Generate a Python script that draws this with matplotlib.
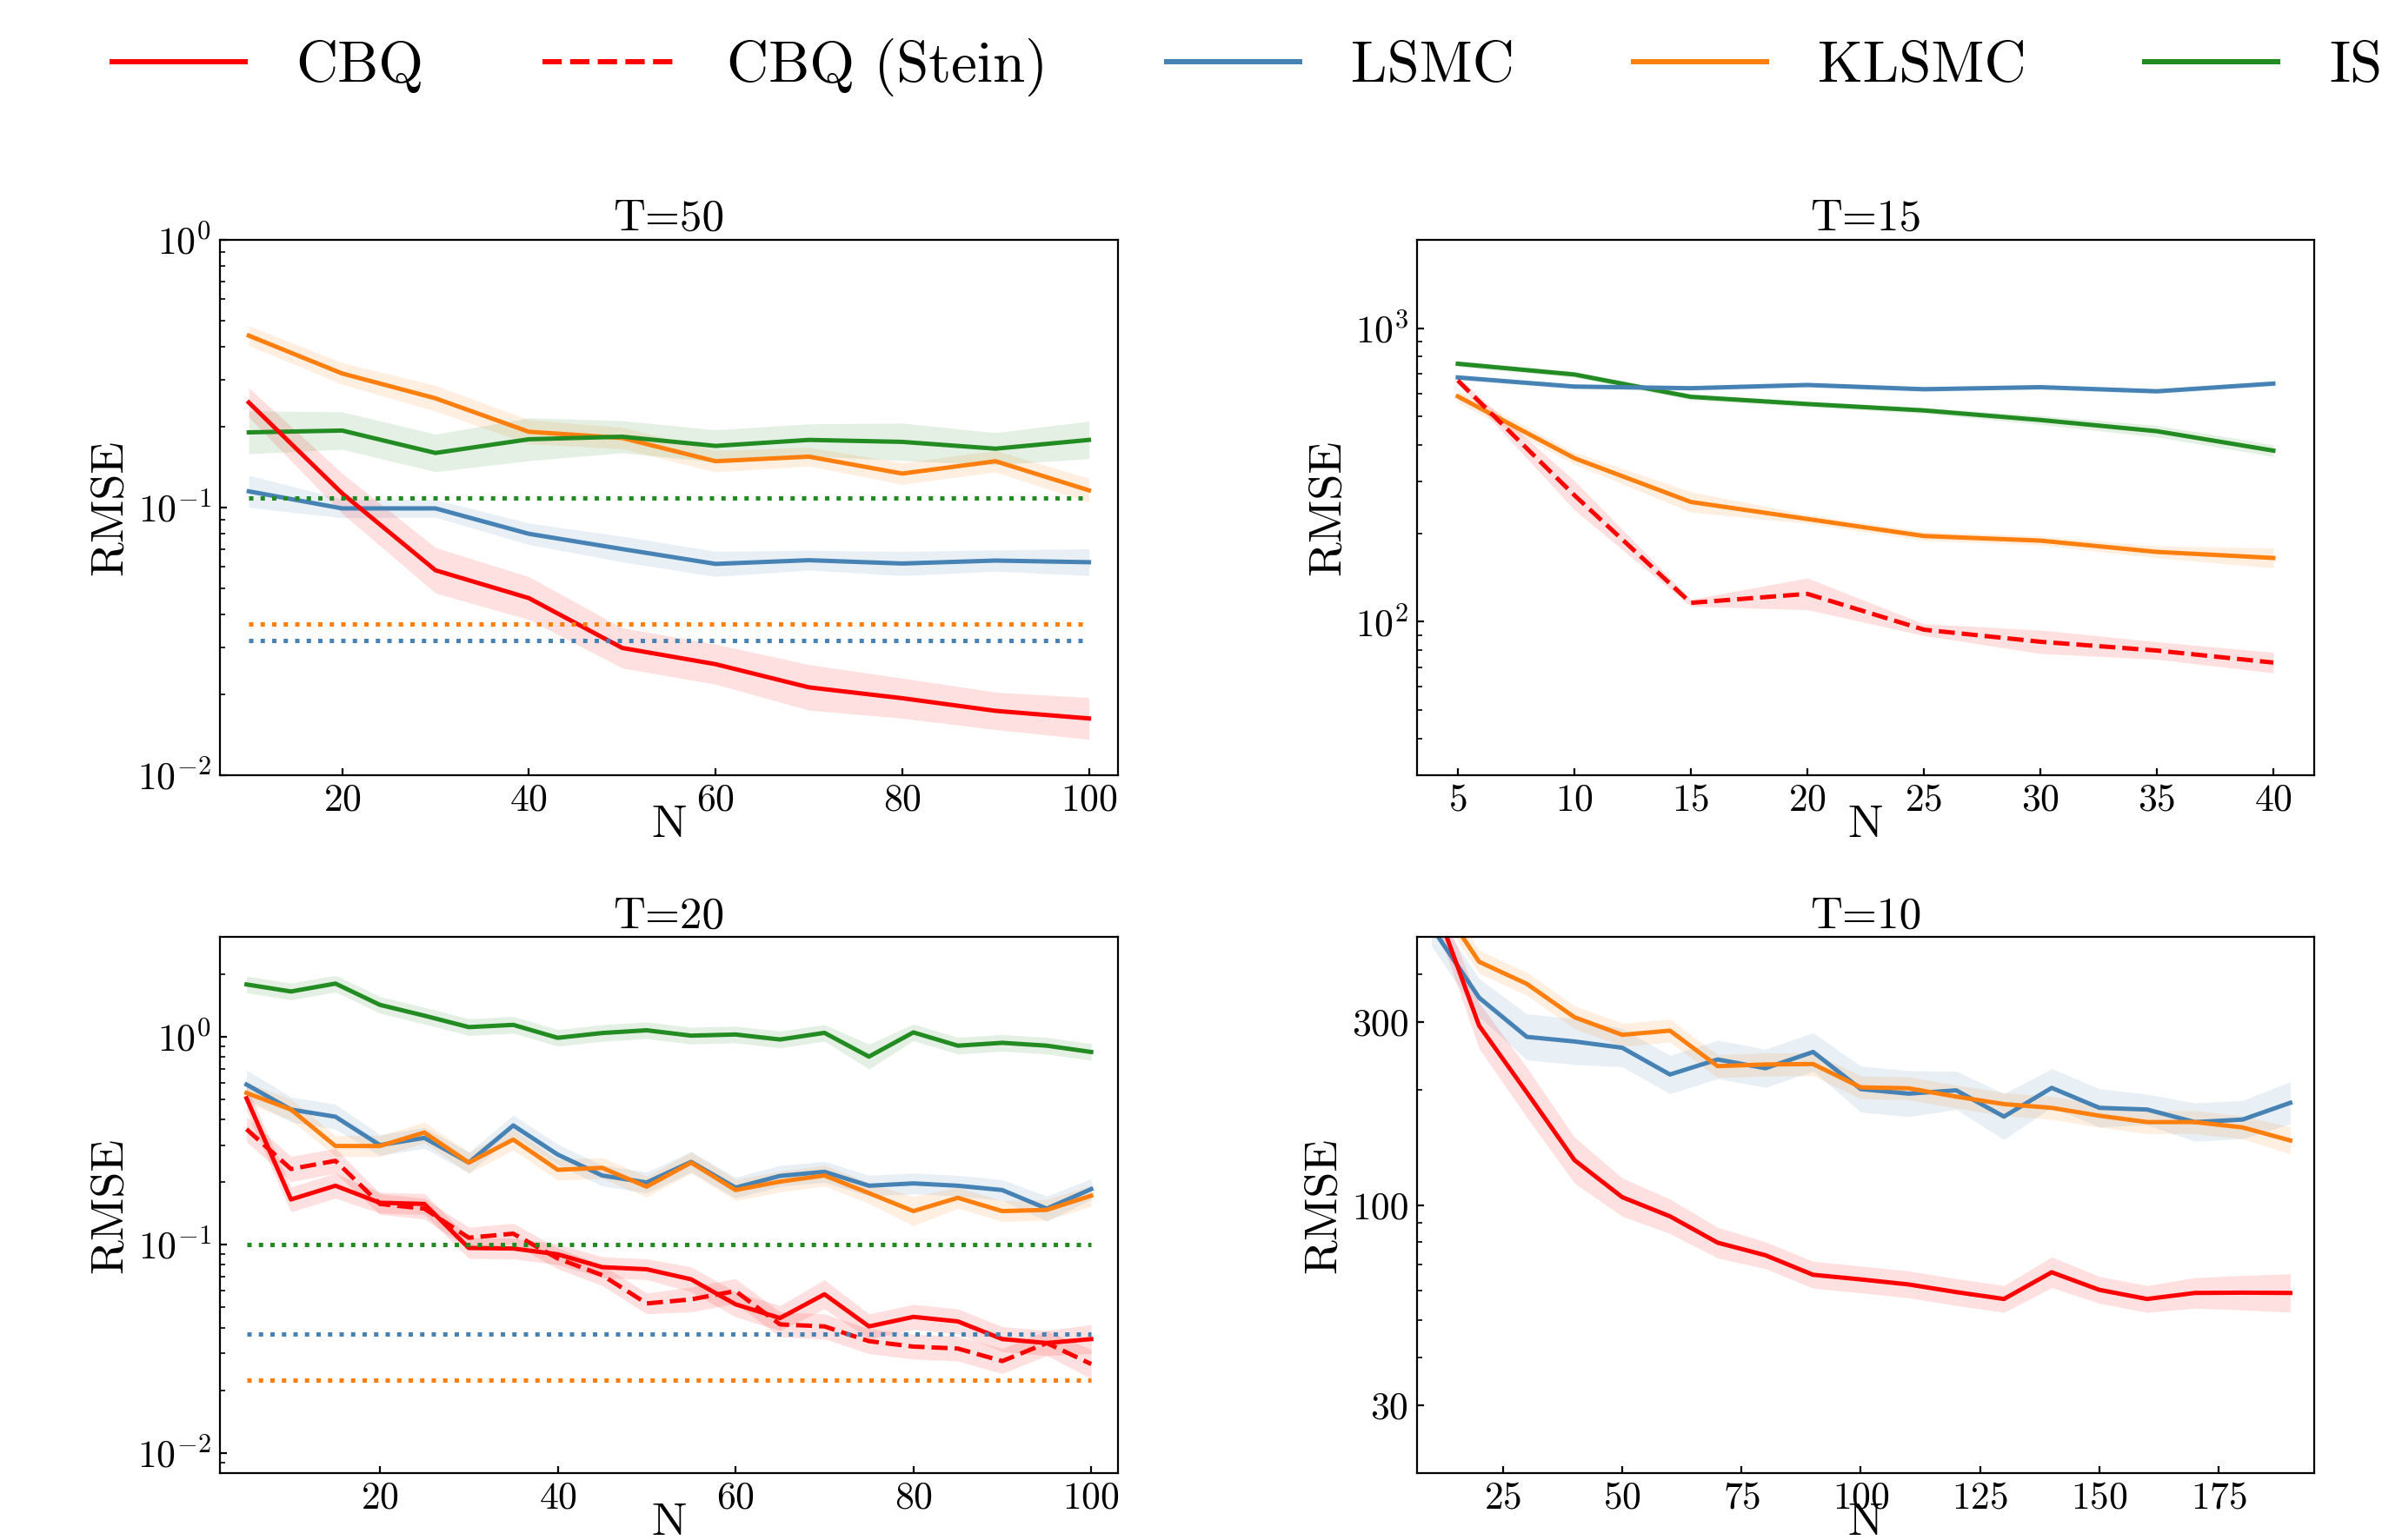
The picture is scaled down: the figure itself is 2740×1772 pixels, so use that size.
import numpy as np
import matplotlib
matplotlib.use('Agg')
import matplotlib.pyplot as plt
from matplotlib.ticker import FixedLocator, FixedFormatter, NullFormatter

# Computer Modern look (cmr10 ships with matplotlib)
plt.rcParams['font.family'] = ['cmr10', 'DejaVu Serif']
plt.rcParams['mathtext.fontset'] = 'cm'
plt.rcParams['axes.formatter.use_mathtext'] = True
plt.rcParams['axes.unicode_minus'] = False

# colours
c_cbq = '#ff0000'
c_lsmc = '#4682b4'
c_klsmc = '#ff7f0e'
c_is = '#228b22'

# ---------------- T=50 ----------------
n50 = [10, 20, 30, 40, 50, 60, 70, 80, 90, 100]
cbq50 = [0.247, 0.113, 0.0583, 0.0459, 0.0299, 0.0260, 0.0213, 0.0194, 0.0174, 0.0163]
lsmc50 = [0.115, 0.0993, 0.0993, 0.0798, 0.070, 0.0616, 0.0636, 0.0618, 0.0634, 0.0625]
klsmc50 = [0.439, 0.317, 0.256, 0.192, 0.182, 0.149, 0.155, 0.134, 0.149, 0.116]
is50 = [0.191, 0.194, 0.160, 0.180, 0.184, 0.170, 0.179, 0.176, 0.166, 0.179]
# band half-widths (log10 decades)
cbq50_w = [0.055, 0.075, 0.085, 0.08, 0.075, 0.075, 0.085, 0.075, 0.07, 0.078]
lsmc50_w = [0.06, 0.035, 0.033, 0.04, 0.048, 0.047, 0.037, 0.045, 0.04, 0.05]
klsmc50_w = [0.037, 0.04, 0.048, 0.045, 0.04, 0.04, 0.035, 0.04, 0.04, 0.045]
is50_w = [0.08, 0.07, 0.07, 0.08, 0.06, 0.06, 0.06, 0.07, 0.06, 0.07]
ref50 = {'lsmc': 0.0318, 'klsmc': 0.0368, 'is': 0.109}

# ---------------- T=15 ----------------
n15 = [5, 10, 15, 20, 25, 30, 35, 40]
stein15 = [664, 270, 116, 124.5, 94, 85.5, 79.8, 72.6]
lsmc15 = [680, 633, 625, 641, 620, 630, 610, 648]
klsmc15 = [586, 361, 256, 224, 196, 189, 173, 165]
is15 = [757, 696, 584, 552, 525, 487, 446, 383]
stein15_w = [0.01, 0.05, 0.012, 0.054, 0.02, 0.04, 0.03, 0.035]
lsmc15_w = [0.008, 0.008, 0.008, 0.008, 0.008, 0.008, 0.008, 0.008]
klsmc15_w = [0.02, 0.02, 0.035, 0.015, 0.015, 0.015, 0.02, 0.034]
is15_w = [0.01, 0.01, 0.01, 0.01, 0.01, 0.015, 0.02, 0.02]

# ---------------- T=20 ----------------
n20 = [5, 10, 15, 20, 25, 30, 35, 40, 45, 50, 55, 60, 65, 70, 75, 80, 85, 90, 95, 100]
cbq20 = [0.505, 0.165, 0.192, 0.159, 0.157, 0.0964, 0.0959, 0.0899, 0.078, 0.0762,
         0.0682, 0.0517, 0.0444, 0.0578, 0.0405, 0.045, 0.0428, 0.0352, 0.0337, 0.0352]
stein20 = [0.359, 0.231, 0.253, 0.157, 0.149, 0.108, 0.113, 0.0859, 0.0714, 0.0522,
           0.0546, 0.0599, 0.0414, 0.0405, 0.0344, 0.0324, 0.0317, 0.0276, 0.0337, 0.0267]
lsmc20 = [0.588, 0.446, 0.412, 0.301, 0.326, 0.248, 0.374, 0.271, 0.215, 0.199,
          0.250, 0.188, 0.214, 0.224, 0.192, 0.197, 0.192, 0.183, 0.149, 0.185]
klsmc20 = [0.536, 0.446, 0.298, 0.298, 0.346, 0.248, 0.320, 0.229, 0.234, 0.190,
           0.248, 0.183, 0.201, 0.215, 0.177, 0.145, 0.168, 0.145, 0.147, 0.172]
is20 = [1.78, 1.646, 1.797, 1.42, 1.26, 1.11, 1.138, 0.986, 1.04, 1.072,
        1.01, 1.023, 0.968, 1.042, 0.801, 1.047, 0.904, 0.933, 0.904, 0.843]
cbq20_w = [0.06, 0.06, 0.06, 0.05, 0.05, 0.05, 0.05, 0.05, 0.05, 0.05,
           0.06, 0.06, 0.06, 0.07, 0.06, 0.06, 0.06, 0.06, 0.06, 0.07]
stein20_w = [0.06, 0.06, 0.06, 0.05, 0.05, 0.05, 0.05, 0.05, 0.05, 0.05,
             0.06, 0.06, 0.06, 0.06, 0.06, 0.06, 0.06, 0.06, 0.06, 0.07]
lsmc20_w = [0.07, 0.06, 0.06, 0.05, 0.05, 0.05, 0.05, 0.05, 0.05, 0.05,
            0.05, 0.05, 0.05, 0.05, 0.05, 0.05, 0.05, 0.05, 0.06, 0.05]
klsmc20_w = [0.05, 0.05, 0.05, 0.05, 0.05, 0.05, 0.05, 0.05, 0.05, 0.05,
             0.05, 0.05, 0.05, 0.05, 0.05, 0.07, 0.05, 0.05, 0.05, 0.05]
is20_w = [0.04, 0.04, 0.04, 0.04, 0.04, 0.04, 0.04, 0.04, 0.04, 0.04,
          0.04, 0.04, 0.04, 0.04, 0.06, 0.04, 0.04, 0.04, 0.04, 0.04]
ref20 = {'lsmc': 0.0373, 'klsmc': 0.0223, 'is': 0.1}

# ---------------- T=10 ----------------
n10 = [10, 20, 30, 40, 50, 60, 70, 80, 90, 100, 110, 120, 130, 140, 150, 160, 170, 180, 190]
cbq10 = [645, 294, 196.8, 131, 104.9, 93.5, 79.8, 74, 65.8, 64,
         62.1, 59.3, 56.9, 66.8, 60.1, 56.9, 59.0, 59.1, 59.0]
lsmc10 = [533, 347.8, 274.8, 267.3, 257.4, 219.2, 239.9, 227.6, 251.0, 200.8,
          195.4, 199.3, 170.2, 202.3, 179.4, 177.6, 164.7, 167.2, 184.9]
klsmc10 = [664, 431.5, 377.9, 309.2, 278.2, 285.3, 230.5, 232.8, 233.4, 202.9,
           201.8, 191.9, 183.5, 179.4, 171.1, 164.7, 164.7, 159.5, 147.5]
cbq10_w = [0.04, 0.06, 0.065, 0.06, 0.05, 0.045, 0.04, 0.035, 0.035, 0.035,
           0.035, 0.035, 0.035, 0.04, 0.035, 0.035, 0.04, 0.045, 0.05]
lsmc10_w = [0.05, 0.05, 0.06, 0.06, 0.05, 0.05, 0.05, 0.05, 0.05, 0.06,
            0.06, 0.05, 0.06, 0.05, 0.05, 0.04, 0.05, 0.05, 0.055]
klsmc10_w = [0.03, 0.03, 0.03, 0.03, 0.03, 0.03, 0.03, 0.03, 0.03, 0.03,
             0.03, 0.03, 0.03, 0.03, 0.03, 0.03, 0.03, 0.03, 0.035]

LW = 1.8


def curve(ax, x, y, w, color, ls='-'):
    x = np.array(x)
    y = np.array(y, dtype=float)
    w = np.array(w)
    ax.fill_between(x, y * 10 ** (-w), y * 10 ** w, color=color, alpha=0.12, lw=0)
    ax.plot(x, y, color=color, ls=ls, lw=LW)


def refline(ax, x, val, color):
    ax.plot([x[0], x[-1]], [val, val], color=color, ls=':', lw=LW)


def style(ax, title):
    ax.set_yscale('log')
    ax.set_title(title, fontsize=18.5, pad=4)
    ax.set_xlabel('N', fontsize=19.5, labelpad=-5.5)
    ax.set_ylabel('RMSE', fontsize=19.5, labelpad=3)
    ax.tick_params(which='both', direction='in', labelsize=15.7)
    ax.tick_params(which='major', length=3)
    ax.tick_params(which='minor', length=2)
    ax.xaxis.set_minor_locator(FixedLocator([]))


fig = plt.figure(figsize=(13.7, 8.86), dpi=200)
ax1 = fig.add_axes([0.0923, 0.4966, 0.377, 0.3476])
ax2 = fig.add_axes([0.5949, 0.4966, 0.3766, 0.3476])
ax3 = fig.add_axes([0.0923, 0.0435, 0.377, 0.3479])
ax4 = fig.add_axes([0.5949, 0.0435, 0.3766, 0.3479])

# T=50
curve(ax1, n50, klsmc50, klsmc50_w, c_klsmc)
curve(ax1, n50, is50, is50_w, c_is)
curve(ax1, n50, lsmc50, lsmc50_w, c_lsmc)
curve(ax1, n50, cbq50, cbq50_w, c_cbq)
refline(ax1, n50, ref50['is'], c_is)
refline(ax1, n50, ref50['klsmc'], c_klsmc)
refline(ax1, n50, ref50['lsmc'], c_lsmc)
style(ax1, 'T=50')
ax1.set_ylim(1e-2, 1e0)
ax1.set_xlim(6.9, 103.1)
ax1.set_xticks([20, 40, 60, 80, 100])

# T=15
curve(ax2, n15, is15, is15_w, c_is)
curve(ax2, n15, lsmc15, lsmc15_w, c_lsmc)
curve(ax2, n15, klsmc15, klsmc15_w, c_klsmc)
curve(ax2, n15, stein15, stein15_w, c_cbq, ls='--')
style(ax2, 'T=15')
ax2.set_ylim(30, 2000)
ax2.set_xlim(3.25, 41.75)
ax2.set_xticks(n15)

# T=20
curve(ax3, n20, is20, is20_w, c_is)
curve(ax3, n20, lsmc20, lsmc20_w, c_lsmc)
curve(ax3, n20, klsmc20, klsmc20_w, c_klsmc)
curve(ax3, n20, stein20, stein20_w, c_cbq, ls='--')
curve(ax3, n20, cbq20, cbq20_w, c_cbq)
refline(ax3, n20, ref20['is'], c_is)
refline(ax3, n20, ref20['lsmc'], c_lsmc)
refline(ax3, n20, ref20['klsmc'], c_klsmc)
style(ax3, 'T=20')
ax3.set_ylim(0.008, 3)
ax3.set_xlim(2, 103)
ax3.set_xticks([20, 40, 60, 80, 100])

# T=10
curve(ax4, n10, lsmc10, lsmc10_w, c_lsmc)
curve(ax4, n10, klsmc10, klsmc10_w, c_klsmc)
curve(ax4, n10, cbq10, cbq10_w, c_cbq)
style(ax4, 'T=10')
ax4.set_ylim(20, 500)
ax4.set_xlim(7, 195)
ax4.set_xticks([25, 50, 75, 100, 125, 150, 175])
ax4.yaxis.set_major_locator(FixedLocator([30, 100, 300]))
ax4.yaxis.set_major_formatter(FixedFormatter(['30', '100', '300']))
ax4.yaxis.set_minor_formatter(NullFormatter())

# shared legend along the top
handles = [
    plt.Line2D([], [], color=c_cbq, lw=LW * 1.2),
    plt.Line2D([], [], color=c_cbq, lw=LW * 1.2, ls='--'),
    plt.Line2D([], [], color=c_lsmc, lw=LW * 1.2),
    plt.Line2D([], [], color=c_klsmc, lw=LW * 1.2),
    plt.Line2D([], [], color=c_is, lw=LW * 1.2),
]
labels = ['CBQ', 'CBQ (Stein)', 'LSMC', 'KLSMC', 'IS']
fig.legend(handles, labels, loc='center left', bbox_to_anchor=(0.025, 0.956),
           ncol=5, frameon=False, fontsize=24, handlelength=2.3,
           handletextpad=0.88, columnspacing=2.05)

fig.savefig('out.png', dpi=200)
